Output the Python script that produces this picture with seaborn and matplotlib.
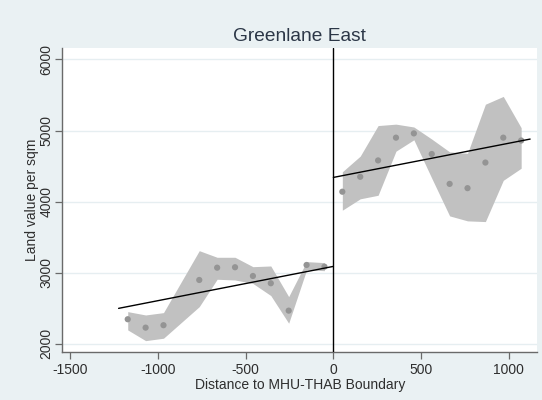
import matplotlib
matplotlib.use("Agg")
import matplotlib.pyplot as plt
import numpy as np
import pandas as pd
import seaborn as sns

# Binned means of land value per sqm, with confidence band limits
left_x = [-1173, -1071, -969, -765, -663, -561, -459, -357, -255, -153, -51]
left_mean = [2347, 2229, 2263, 2899, 3072, 3078, 2955, 2853, 2468, 3110, 3086]
left_upper = [2454, 2407, 2440, 3311, 3218, 3218, 3086, 3096, 2665, 3157, 3143]
left_lower = [2197, 2046, 2080, 2524, 2909, 2899, 2850, 2680, 2291, 3040, 3030]

right_x = [51, 153, 255, 357, 459, 561, 663, 765, 867, 969, 1071]
right_mean = [4140, 4350, 4580, 4900, 4960, 4670, 4250, 4190, 4550, 4900, 4860]
right_upper = [4420, 4640, 5070, 5090, 5050, 4880, 4700, 4680, 5370, 5480, 5040]
right_lower = [3880, 4040, 4090, 4710, 4870, 4330, 3800, 3730, 3720, 4300, 4470]

# Linear fits on each side of the boundary (end points)
fit_left_x = [-1225, 0]
fit_left_y = [2500, 3090]
fit_right_x = [0, 1122]
fit_right_y = [4341, 4880]

x_ticks = [-1500, -1000, -500, 0, 500, 1000]
y_ticks = [2000, 3000, 4000, 5000, 6000]

title = "Greenlane East"
x_label = "Distance to MHU-THAB Boundary"
y_label = "Land value per sqm"

sns.set_theme(style="white")
plt.rcParams["font.family"] = ["Liberation Sans", "DejaVu Sans"]

outer_bg = "#eaf1f3"
band_col = "#c1c1c1"
dot_col = "#949494"
text_col = "#2e2e2e"

fig = plt.figure(figsize=(5.42, 4.0), dpi=100)
fig.patch.set_facecolor(outer_bg)
ax = fig.add_axes([0.115, 0.121, 0.876, 0.758])
ax.set_facecolor("white")

points = pd.DataFrame({
    "x": left_x + right_x,
    "y": left_mean + right_mean,
})
fits = pd.DataFrame({
    "x": fit_left_x + fit_right_x,
    "y": fit_left_y + fit_right_y,
    "side": ["left"] * 2 + ["right"] * 2,
})

ax.fill_between(left_x, left_lower, left_upper, color=band_col, lw=0, zorder=2)
ax.fill_between(right_x, right_lower, right_upper, color=band_col, lw=0, zorder=2)

sns.scatterplot(data=points, x="x", y="y", ax=ax, color=dot_col, s=20,
                edgecolor="none", zorder=3, legend=False)
sns.lineplot(data=fits, x="x", y="y", units="side", estimator=None, ax=ax,
             color="black", lw=1.0, zorder=4, legend=False)

ax.axvline(0, color="black", lw=1.0, zorder=5)

ax.set_xlim(-1546, 1162)
ax.set_ylim(1892, 6155)
ax.set_xticks(x_ticks)
ax.set_yticks(y_ticks)
ax.set_xticklabels([str(v) for v in x_ticks])
ax.set_yticklabels([str(v) for v in y_ticks], rotation=90, va="center")

ax.grid(axis="y", color="#e6eef1", lw=1.0, zorder=0)
ax.set_axisbelow(True)

for side in ["top", "right"]:
    ax.spines[side].set_visible(False)
for side in ["left", "bottom"]:
    ax.spines[side].set_color("#6a6a6a")
    ax.spines[side].set_linewidth(1.0)

ax.tick_params(axis="both", direction="out", length=5, width=0.9,
               color="#6a6a6a", labelsize=10, labelcolor=text_col, pad=3)
ax.tick_params(axis="y", pad=1.5)
ax.tick_params(left=True, bottom=True)

ax.set_xlabel(x_label, fontsize=10, color=text_col, labelpad=1)
ax.set_ylabel(y_label, fontsize=10, color=text_col, labelpad=0)

fig.text(0.553, 0.909, title, fontsize=13.8, color="#2c3747",
         ha="center", va="center")

fig.savefig("out.png", dpi=100, facecolor=fig.get_facecolor())
